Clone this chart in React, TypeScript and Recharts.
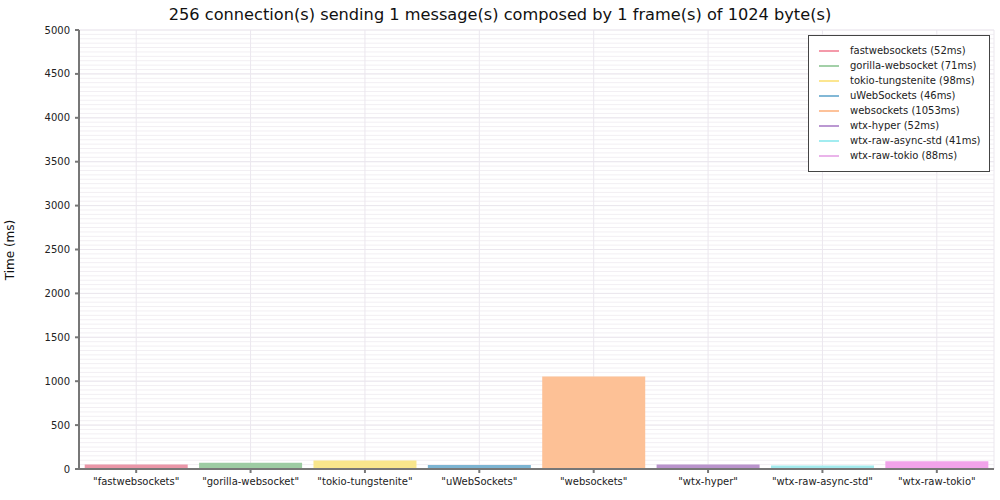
import React from 'react';
import { BarChart, Bar, XAxis, YAxis, CartesianGrid, Cell } from 'recharts';

const categories = [
  'fastwebsockets',
  'gorilla-websocket',
  'tokio-tungstenite',
  'uWebSockets',
  'websockets',
  'wtx-hyper',
  'wtx-raw-async-std',
  'wtx-raw-tokio',
];
const timesMs = [52, 71, 98, 46, 1053, 52, 41, 88];
const barColors = ['#ea96a8', '#9dcca3', '#f8e68c', '#7cb4d2', '#fdc196', '#b993cc', '#a2e9ec', '#f1a3ea'];
const legendColors = ['#f49aaa', '#a3d0a8', '#fce690', '#82b8d6', '#fdc29a', '#bb98d2', '#a2ecf0', '#eab4ea'];
const yTicks = [0, 500, 1000, 1500, 2000, 2500, 3000, 3500, 4000, 4500, 5000];
const minorGridStep = 50;
const yMax = 5000;

const titleText = '256 connection(s) sending 1 message(s) composed by 1 frame(s) of 1024 byte(s)';
const yLabelText = 'Time (ms)';

const data = categories.map((name, i) => ({ name, label: `"${name}"`, time: timesMs[i] }));
const minorGridValues: number[] = [];
for (let v = 0; v <= yMax; v += minorGridStep) minorGridValues.push(v);

const FONT = '"DejaVu Sans", sans-serif';

export default function App() {
  return (
    <div style={{ position: 'absolute', left: 0, top: 0, width: 1000, height: 500, background: '#fff', fontFamily: FONT }}>
      <BarChart
        width={1000}
        height={500}
        data={data}
        margin={{ top: 30, right: 6, bottom: 0, left: 9 }}
        barCategoryGap="5%"
      >
        <CartesianGrid
          horizontalValues={minorGridValues}
          vertical={false}
          stroke="#f2eff3"
          strokeWidth={1}
        />
        <CartesianGrid
          horizontalValues={yTicks}
          vertical={true}
          stroke="#ebe7ee"
          strokeWidth={1}
        />
        <XAxis
          dataKey="label"
          interval={0}
          height={31}
          tickSize={4}
          tickMargin={5}
          axisLine={{ stroke: '#777', strokeWidth: 2 }}
          tickLine={{ stroke: '#777', strokeWidth: 2 }}
          tick={{ fontSize: 10, fill: '#222', fontFamily: FONT }}
        />
        <YAxis
          type="number"
          domain={[0, yMax]}
          ticks={yTicks}
          interval={0}
          width={70}
          tickSize={4}
          tickMargin={5}
          axisLine={{ stroke: '#777', strokeWidth: 2 }}
          tickLine={{ stroke: '#777', strokeWidth: 2 }}
          tick={{ fontSize: 10, fill: '#222', fontFamily: FONT }}
        />
        <Bar dataKey="time" isAnimationActive={false}>
          {data.map((d, i) => (
            <Cell key={d.name} fill={barColors[i]} />
          ))}
        </Bar>
      </BarChart>
      <div
        style={{
          position: 'absolute',
          left: 0,
          top: 5,
          width: 1000,
          textAlign: 'center',
          fontSize: 16.2,
          color: '#111',
          whiteSpace: 'nowrap',
        }}
      >
        {titleText}
      </div>
      <div
        style={{
          position: 'absolute',
          left: 10,
          top: 250,
          transform: 'translate(-50%, -50%) rotate(-90deg)',
          fontSize: 12,
          color: '#111',
          whiteSpace: 'nowrap',
        }}
      >
        {yLabelText}
      </div>
      <div
        style={{
          position: 'absolute',
          left: 808,
          top: 35,
          width: 182,
          height: 137,
          border: '1px solid #444',
          background: '#fff',
          boxSizing: 'border-box',
          paddingTop: 7,
        }}
      >
        {categories.map((name, i) => (
          <div key={name} style={{ display: 'flex', alignItems: 'center', height: 15, fontSize: 10, color: '#222', whiteSpace: 'nowrap' }}>
            <div style={{ width: 20, height: 2, background: legendColors[i], marginLeft: 10, marginRight: 11 }} />
            <span>{`${name} (${timesMs[i]}ms)`}</span>
          </div>
        ))}
      </div>
    </div>
  );
}
